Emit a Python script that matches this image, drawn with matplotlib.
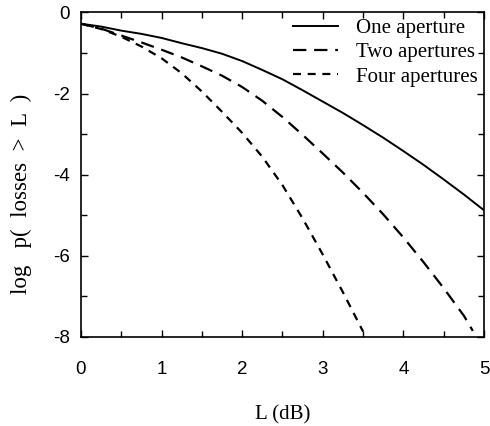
import numpy as np
import matplotlib.pyplot as plt
from matplotlib.ticker import MultipleLocator

# valeurs
L_one = [0, 0.25, 0.5, 0.75, 1, 1.25, 1.5, 1.75, 2, 2.25, 2.5, 2.75, 3,
         3.25, 3.5, 3.75, 4, 4.25, 4.5, 4.75, 5]
p_one = [-0.28, -0.35, -0.45, -0.53, -0.63, -0.76, -0.88, -1.02, -1.2, -1.42,
         -1.65, -1.92, -2.2, -2.48, -2.78, -3.09, -3.42, -3.76, -4.12, -4.49, -4.88]

L_two = [0, 0.25, 0.5, 0.75, 1, 1.25, 1.5, 1.75, 2, 2.25, 2.5, 2.75, 3,
         3.25, 3.5, 3.75, 4, 4.25, 4.5, 4.75, 4.86]
p_two = [-0.28, -0.4, -0.57, -0.74, -0.92, -1.11, -1.33, -1.56, -1.84, -2.18,
         -2.58, -3.02, -3.48, -3.95, -4.45, -4.98, -5.55, -6.16, -6.8, -7.48, -7.85]

L_four = [0, 0.25, 0.5, 0.75, 1, 1.25, 1.5, 1.75, 2, 2.25, 2.5, 2.75, 3,
          3.25, 3.5]
p_four = [-0.28, -0.41, -0.6, -0.84, -1.13, -1.5, -1.95, -2.45, -2.97, -3.56,
          -4.26, -5.08, -5.97, -6.9, -7.87]

labels = ['One aperture', 'Two apertures', 'Four apertures']
xticks = [0, 1, 2, 3, 4, 5]
yticks = [0, -2, -4, -6, -8]
ytick_labels = ['0', '-2', '-4', '-6', '-8']

tickfont = ['Liberation Sans Narrow', 'Liberation Sans', 'DejaVu Sans']
serif = ['Liberation Serif', 'DejaVu Serif']

fig = plt.figure(figsize=(4.9, 4.26), dpi=100)
ax = fig.add_axes([0.165, 0.209, 0.823, 0.762])

ax.plot(L_one, p_one, color='black', lw=1.4, label=labels[0])
ax.plot(L_two, p_two, color='black', lw=1.6, dashes=(6, 3.5), label=labels[1])
ax.plot(L_four, p_four, color='black', lw=1.6, dashes=(3.6, 3), label=labels[2])

ax.set_xlim(0, 5)
ax.set_ylim(-8, 0)
ax.set_xticks(xticks)
ax.set_xticklabels([str(t) for t in xticks], family=tickfont, fontsize=13.5)
ax.set_yticks(yticks)
ax.set_yticklabels(ytick_labels, family=tickfont, fontsize=13.5)
ax.xaxis.set_minor_locator(MultipleLocator(0.5))
ax.yaxis.set_minor_locator(MultipleLocator(1))
ax.tick_params(which='both', direction='in', top=True, right=True, width=1)
ax.tick_params(which='major', length=5)
ax.tick_params(which='minor', length=4)
ax.tick_params(axis='x', pad=17)
ax.tick_params(axis='y', pad=8)
for s in ax.spines.values():
    s.set_linewidth(1.2)

ax.set_xlabel('L (dB)', family=serif, fontsize=15, labelpad=20)
ax.set_ylabel('log   p(  losses  >  L  )', family=serif, fontsize=16.5)
ax.yaxis.set_label_coords(-0.12, 0.44)

leg = ax.legend(loc='upper right', frameon=False, prop={'family': serif, 'size': 15},
                handlelength=2.2, handletextpad=0.85, labelspacing=0.22,
                borderaxespad=0.0, borderpad=0.3)

fig.savefig('out.png', dpi=100)
